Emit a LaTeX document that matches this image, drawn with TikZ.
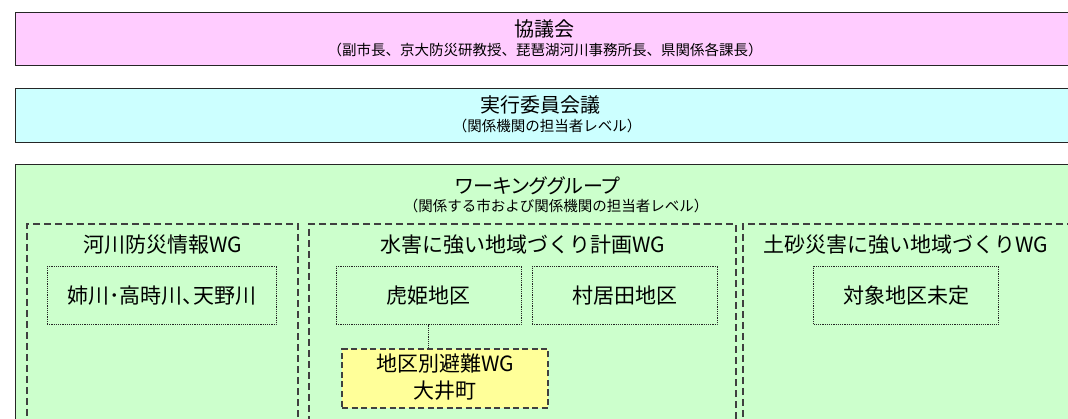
\documentclass[tikz,border=0pt]{standalone}
\usepackage{fontspec}
\setmainfont{Noto Sans CJK JP}
\newfontfamily\propfont{Noto Sans CJK JP}[RawFeature=+palt]
\usetikzlibrary{positioning}

\definecolor{kyogifill}{HTML}{FFCCFF}
\definecolor{jikkofill}{HTML}{CCFFFF}
\definecolor{wgfill}{HTML}{CCFFCC}
\definecolor{hinanfill}{HTML}{FFFF99}
\definecolor{edgegray}{HTML}{404040}

\newcommand{\bigtxt}{\propfont\fontsize{20}{24}\selectfont}
\newcommand{\midtxt}{\fontsize{21}{27}\selectfont}
\newcommand{\smalltxt}{\fontsize{14.5}{17}\selectfont}

\tikzset{
  panel/.style={rectangle, draw=black!85, line width=1pt, inner sep=0pt},
  wgbox/.style={rectangle, draw=edgegray, line width=1.2pt, dash pattern=on 7pt off 4pt, inner sep=0pt},
  areabox/.style={rectangle, draw=black!85, line width=1pt, dash pattern=on 1.2pt off 1pt, inner sep=0pt, font=\midtxt},
  hinanbox/.style={rectangle, draw=edgegray, fill=hinanfill, line width=1.2pt, dash pattern=on 6pt off 3.5pt, inner sep=0pt},
  label/.style={inner sep=0pt}
}

\begin{document}
\begin{tikzpicture}[x=1pt, y=-1pt]
            \useasboundingbox (0,0) rectangle (1068,419);
            \clip (0,0) rectangle (1068,419);
            \fill[white] (0,0) rectangle (1068,419);

            % Upper bodies
            \node (kyogikai) [panel, fill=kyogifill, minimum width=1066pt, minimum height=53pt] at (548,39.5) {};
            \node (kyogikaiTitle) [label] at (544,29) {\bigtxt 協議会};
            \node (kyogikaiSub) [label] at (545,50) {\smalltxt （副市長、京大防災研教授、琵琶湖河川事務所長、県関係各課長）};

            \node (jikko) [panel, fill=jikkofill, minimum width=1066pt, minimum height=54pt] at (548,116) {};
            \node (jikkoTitle) [label] at (540,105) {\bigtxt 実行委員会議};
            \node (jikkoSub) [label] at (547,125.5) {\smalltxt （関係機関の担当者レベル）};

            % Working group
            \node (wg) [panel, fill=wgfill, minimum width=1066pt, minimum height=290pt] at (548,310) {};
            \node (wgTitle) [label] at (538,185.5) {\bigtxt ワーキンググループ};
            \node (wgSub) [label] at (556,206) {\smalltxt （関係する市および関係機関の担当者レベル）};

            % Sub groups
            \node (kasen) [wgbox, minimum width=271pt, minimum height=230pt] at (162.5,339) {};
            \node (suigai) [wgbox, minimum width=427pt, minimum height=230pt] at (522.5,339) {};
            \node (dosha) [wgbox, minimum width=331pt, minimum height=230pt] at (908.5,339) {};

            \node (kasenTitle) [label] at (162.5,245) {\midtxt 河川防災情報WG};
            \node (suigaiTitle) [label] at (522.5,245) {\midtxt 水害に強い地域づくり計画WG};
            \node (doshaTitle) [label] at (906,245) {\midtxt 土砂災害に強い地域づくりWG};

            % Areas
            \node (anegawa) [areabox, minimum width=229pt, minimum height=58pt] at (161.5,296) {\propfont 姉川･高時川、天野川};
            \node (torahime) [areabox, minimum width=185pt, minimum height=58pt] at (428.5,296) {虎姫地区};
            \node (muraida) [areabox, minimum width=185pt, minimum height=58pt] at (624.5,296) {村居田地区};
            \node (mitei) [areabox, minimum width=185pt, minimum height=58pt] at (906,296) {対象地区未定};

            \node (hinan) [hinanbox, minimum width=206pt, minimum height=59pt] at (445,378.5) {};
            \node (hinanText) [label, align=center, font=\midtxt] at (445,377.5) {地区別避難WG\\大井町};

            % Connector
            \draw[black!85, line width=1pt, dash pattern=on 1.2pt off 1pt] (torahime.south) -- (torahime.south |- hinan.north);
\end{tikzpicture}
\end{document}
